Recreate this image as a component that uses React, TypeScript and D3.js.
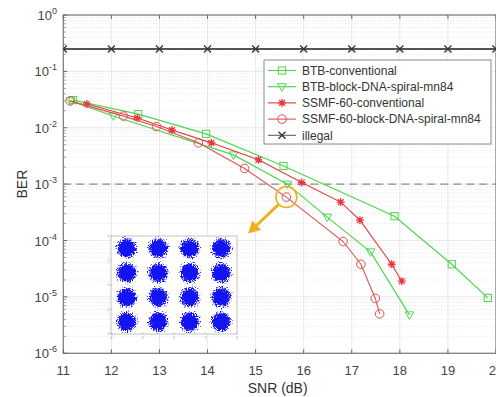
import React from 'react';
import * as d3 from 'd3';

// BER vs SNR curves
const snrBtbConv = [11.2, 12.56, 13.97, 15.58, 17.89, 19.08, 19.83];
const berBtbConv = [0.031, 0.0175, 0.0078, 0.0021, 2.7e-4, 3.8e-5, 9.6e-6];

const snrBtbBlock = [11.15, 12.04, 14.54, 15.66, 16.49, 17.39, 18.2];
const berBtbBlock = [0.03, 0.0162, 0.0033, 1.0e-3, 2.6e-4, 6.3e-5, 4.8e-6];

const snrSsmfConv = [11.49, 12.54, 13.26, 14.08, 15.06, 15.96, 16.77, 17.17, 17.83, 18.04];
const berSsmfConv = [0.0264, 0.0149, 0.0091, 0.0054, 0.0027, 1.07e-3, 4.8e-4, 2.3e-4, 3.8e-5, 1.9e-5];

const snrSsmfBlock = [11.14, 12.25, 12.94, 13.81, 14.77, 15.64, 16.82, 17.19, 17.49, 17.58];
const berSsmfBlock = [0.03, 0.0161, 0.0105, 0.0054, 0.0019, 5.9e-4, 9.6e-5, 3.8e-5, 9.4e-6, 5e-6];

const snrIllegal = [11, 12, 13, 14, 15, 16, 17, 18, 19, 20];
const berIllegal = [0.25, 0.25, 0.25, 0.25, 0.25, 0.25, 0.25, 0.25, 0.25, 0.25];

const fecLimit = 1e-3;
const xTicks = [11, 12, 13, 14, 15, 16, 17, 18, 19, 20];
const yExponents = [0, -1, -2, -3, -4, -5, -6];

const seriesNames = [
  'BTB-conventional',
  'BTB-block-DNA-spiral-mn84',
  'SSMF-60-conventional',
  'SSMF-60-block-DNA-spiral-mn84',
  'illegal',
];

// 16-QAM inset
const qamLevels = [-3, -1, 1, 3];
const insetTicks = [-4, -2, 0, 2, 4];

const GREEN = '#4fd64f';
const RED = '#e8363c';
const RED2 = '#e25050';
const FONT = '"Liberation Sans", Arial, Helvetica, sans-serif';

type Marker = 'square' | 'tri' | 'star' | 'circle' | 'x';

const MarkerShape = ({ kind, x, y, color }: { kind: Marker; x: number; y: number; color: string }) => {
  const s = 3.6;
  if (kind === 'square')
    return <rect x={x - s} y={y - s} width={2 * s} height={2 * s} fill="none" stroke={color} strokeWidth={1} />;
  if (kind === 'tri')
    return (
      <path d={`M${x - 4.3},${y - 3}L${x + 4.3},${y - 3}L${x},${y + 4.5}Z`} fill="none" stroke={color} strokeWidth={1} />
    );
  if (kind === 'circle') return <circle cx={x} cy={y} r={4.3} fill="none" stroke={color} strokeWidth={1} />;
  if (kind === 'x') {
    const a = 3.5;
    return (
      <path d={`M${x - a},${y - a}L${x + a},${y + a}M${x - a},${y + a}L${x + a},${y - a}`} stroke={color} strokeWidth={1.3} />
    );
  }
  const a = 4, b = 2.9;
  return (
    <path
      d={`M${x - a},${y}L${x + a},${y}M${x},${y - a}L${x},${y + a}M${x - b},${y - b}L${x + b},${y + b}M${x - b},${y + b}L${x + b},${y - b}`}
      stroke={color}
      strokeWidth={1.3}
    />
  );
};

export default function App() {
  const W = 496, H = 397;
  const x = d3.scaleLinear().domain([11, 20]).range([63.3, 496]);
  const y = d3.scaleLog().domain([1e-6, 1]).range([353.3, 15]);
  const left = x(11), right = x(20), top = y(1), bottom = y(1e-6);

  const series = [
    { snr: snrBtbConv, ber: berBtbConv, color: GREEN, marker: 'square' as Marker, w: 1.2 },
    { snr: snrBtbBlock, ber: berBtbBlock, color: GREEN, marker: 'tri' as Marker, w: 1.2 },
    { snr: snrSsmfConv, ber: berSsmfConv, color: RED, marker: 'star' as Marker, w: 1.1 },
    { snr: snrSsmfBlock, ber: berSsmfBlock, color: RED2, marker: 'circle' as Marker, w: 1.1 },
    { snr: snrIllegal, ber: berIllegal, color: '#555', marker: 'x' as Marker, w: 2 },
  ];

  const line = d3
    .line<[number, number]>()
    .x((d) => x(d[0]))
    .y((d) => y(d[1]));

  const minorY: number[] = [];
  yExponents.slice(1).forEach((e) => {
    for (let k = 2; k <= 9; k++) minorY.push(k * Math.pow(10, e));
  });

  // inset geometry
  const ix = d3.scaleLinear().domain([-4, 4]).range([111, 237]);
  const iy = d3.scaleLinear().domain([-4, 4]).range([334, 236]);

  // annotation target = SSMF block point near FEC limit
  const ax = x(snrSsmfBlock[5]), ay = y(berSsmfBlock[5]);
  const tipX = 248, tipY = 233.5;
  const ang = Math.atan2(tipY - ay, tipX - ax);
  const sx = ax + 11 * Math.cos(ang), sy = ay + 11 * Math.sin(ang);
  const hl = 12, hw = 6.5;
  const bx = tipX - hl * Math.cos(ang), by = tipY - hl * Math.sin(ang);
  const px = -Math.sin(ang), py = Math.cos(ang);

  const lgX = 264, lgY = 60, lgW = 227, lgH = 84;

  return (
    <svg width={W} height={H} style={{ position: 'absolute', left: 0, top: 0, background: '#fff' }} fontFamily={FONT}>
      <defs>
        <clipPath id="plot">
          <rect x={left} y={top} width={right - left} height={bottom - top} />
        </clipPath>
        <radialGradient id="blob">
          <stop offset="0%" stopColor="#000" stopOpacity={1} />
          <stop offset="35%" stopColor="#000" stopOpacity={0.95} />
          <stop offset="100%" stopColor="#000" stopOpacity={0} />
        </radialGradient>
        <filter id="speckle" x="-20%" y="-20%" width="140%" height="140%" colorInterpolationFilters="sRGB">
          <feTurbulence type="fractalNoise" baseFrequency="0.8" numOctaves={1} seed={4} result="noise" />
          <feColorMatrix in="noise" type="matrix" values="0 0 0 0 0  0 0 0 0 0  0 0 0 0 0  2.2 0 0 0 -0.6" result="n" />
          <feComposite in="SourceGraphic" in2="n" operator="arithmetic" k1={0} k2={4.5} k3={-2.8} k4={0} result="mask" />
          <feFlood floodColor="#1414f0" result="blue" />
          <feComposite in="blue" in2="mask" operator="in" />
        </filter>
      </defs>

      {/* grid */}
      <g clipPath="url(#plot)">
        {minorY.map((v, i) => (
          <line key={'my' + i} x1={left} x2={right} y1={y(v)} y2={y(v)} stroke="#d6d6d6" strokeWidth={0.7} strokeDasharray="1,2" />
        ))}
        {yExponents.map((e) => (
          <line key={'gy' + e} x1={left} x2={right} y1={y(Math.pow(10, e))} y2={y(Math.pow(10, e))} stroke="#e2e2e2" strokeWidth={0.8} />
        ))}
        {xTicks.map((t) => (
          <line key={'gx' + t} x1={x(t)} x2={x(t)} y1={top} y2={bottom} stroke="#e2e2e2" strokeWidth={0.8} />
        ))}
      </g>

      {/* axes box and ticks */}
      <rect x={left} y={top} width={right - left} height={bottom - top} fill="none" stroke="#777" strokeWidth={1.2} />
      {xTicks.map((t) => (
        <g key={'xt' + t}>
          <line x1={x(t)} x2={x(t)} y1={bottom} y2={bottom - 4} stroke="#666" />
          <line x1={x(t)} x2={x(t)} y1={top} y2={top + 4} stroke="#666" />
          <text x={x(t)} y={375} fontSize={13} textAnchor="middle" fill="#444">
            {t}
          </text>
        </g>
      ))}
      {yExponents.map((e) => (
        <g key={'yt' + e}>
          <line x1={left} x2={left + 4} y1={y(Math.pow(10, e))} y2={y(Math.pow(10, e))} stroke="#666" />
          <text x={57} y={y(Math.pow(10, e)) + 5} fontSize={13} textAnchor="end" fill="#444">
            <tspan>10</tspan>
            <tspan dy={-6} fontSize={9}>
              {e === 0 ? '0' : '-' + Math.abs(e)}
            </tspan>
          </text>
        </g>
      ))}
      {minorY.map((v, i) => (
        <line key={'mt' + i} x1={left} x2={left + 2.5} y1={y(v)} y2={y(v)} stroke="#888" strokeWidth={0.8} />
      ))}

      <text x={(left + right) / 2 - 2} y={393} fontSize={14} textAnchor="middle" fill="#333">
        SNR (dB)
      </text>
      <text transform={`translate(27,${(top + bottom) / 2}) rotate(-90)`} fontSize={14} textAnchor="middle" fill="#333">
        BER
      </text>

      {/* FEC limit */}
      <line x1={left} x2={right} y1={y(fecLimit)} y2={y(fecLimit)} stroke="#8c8c8c" strokeWidth={1.4} strokeDasharray="8,5" />

      {/* curves */}
      <g clipPath="url(#plot)">
        {series.map((s, i) => {
          const pts = s.snr.map((v, j) => [v, s.ber[j]] as [number, number]);
          return (
            <g key={'s' + i}>
              <path d={line(pts) || ''} fill="none" stroke={s.color} strokeWidth={s.w} />
              {pts.map((p, j) => (
                <MarkerShape key={j} kind={s.marker} x={x(p[0])} y={y(p[1])} color={i === 4 ? '#333' : s.color} />
              ))}
            </g>
          );
        })}
      </g>

      {/* annotation */}
      <circle cx={ax} cy={ay} r={10.5} fill="none" stroke="#edb120" strokeWidth={1.6} />
      <line x1={sx} y1={sy} x2={bx} y2={by} stroke="#edb120" strokeWidth={3} />
      <path
        d={`M${tipX},${tipY}L${bx + hw * px},${by + hw * py}L${bx - hw * px},${by - hw * py}Z`}
        fill="#edb120"
      />

      {/* inset constellation */}
      <rect x={ix(-4)} y={iy(4)} width={ix(4) - ix(-4)} height={iy(-4) - iy(4)} fill="#fff" stroke="#b5b5b5" strokeWidth={0.8} />
      {insetTicks.map((t) => (
        <g key={'it' + t}>
          <line x1={ix(t)} x2={ix(t)} y1={iy(-4)} y2={iy(-4) - 1.5} stroke="#999" strokeWidth={0.6} />
          <line x1={ix(-4)} x2={ix(-4) + 1.5} y1={iy(t)} y2={iy(t)} stroke="#999" strokeWidth={0.6} />
          <text x={ix(t)} y={iy(-4) + 5} fontSize={3.5} textAnchor="middle" fill="#999">
            {t}
          </text>
          <text x={ix(-4) - 1.5} y={iy(t) + 1.2} fontSize={3.5} textAnchor="end" fill="#999">
            {t}
          </text>
        </g>
      ))}
      <g filter="url(#speckle)">
        {qamLevels.map((i) =>
          qamLevels.map((q) => <circle key={i + '_' + q} cx={ix(i)} cy={iy(q)} r={13} fill="url(#blob)" />)
        )}
      </g>

      {/* legend */}
      <rect x={lgX} y={lgY} width={lgW} height={lgH} fill="#fff" stroke="#8a8a8a" strokeWidth={1} />
      {seriesNames.map((name, i) => {
        const ly = 70.5 + i * 16.2;
        const s = series[i];
        return (
          <g key={'lg' + i}>
            <line x1={268} x2={296} y1={ly} y2={ly} stroke={s.color} strokeWidth={i === 4 ? 1 : s.w} />
            <MarkerShape kind={s.marker} x={282} y={ly} color={i === 4 ? '#333' : s.color} />
            <text x={302} y={ly + 4.2} fontSize={12} fill="#333">
              {name}
            </text>
          </g>
        );
      })}
    </svg>
  );
}
